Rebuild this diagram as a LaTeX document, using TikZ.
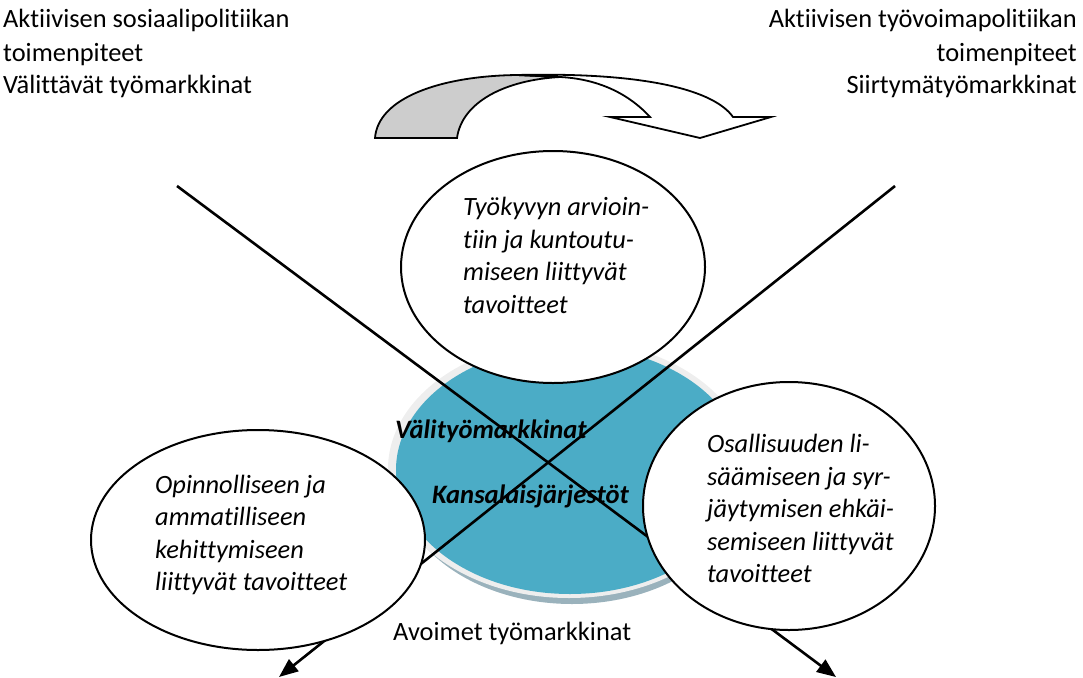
\documentclass[tikz,border=0pt]{standalone}
\usepackage{fontspec}
\setmainfont{Carlito}[Ligatures=NoCommon]
\usetikzlibrary{arrows.meta,shapes.geometric}
\definecolor{aqua}{HTML}{4BACC6}
\definecolor{ringgray}{HTML}{EEEEEE}
\definecolor{shadowblue}{HTML}{9AB2BC}
\definecolor{arrowgray}{HTML}{CDCDCD}
\begin{document}
\begin{tikzpicture}[x=1pt,y=-1pt,
  txt/.style={font=\fontsize{26.4}{32.5}\selectfont, inner sep=0pt, anchor=base west},
  txtr/.style={txt, anchor=base east},
  goal/.style={txt, font=\fontsize{26.4}{32.5}\selectfont\itshape},
  hub/.style={txt, font=\fontsize{26.6}{32.5}\selectfont\bfseries\itshape},
  goalell/.style={ellipse, draw=black, fill=white, line width=2pt, inner sep=0pt},
  plainell/.style={ellipse, inner sep=0pt},
  cross/.style={line width=2.6pt, -{Triangle[length=19pt,width=15pt]}},
  ribbon/.style={draw=black, line width=1.8pt, line join=miter}
]
\useasboundingbox (0,0) rectangle (1083,677);

% central blue ellipse with ring and shadow
\node[plainell, fill=shadowblue, minimum width=350pt, minimum height=252pt] (shadow) at (572,478) {};
\node[plainell, fill=ringgray, minimum width=362pt, minimum height=258pt] (ring) at (569,469) {};
\node[plainell, fill=aqua, minimum width=348pt, minimum height=248pt] (hubE) at (570,470) {};

% crossing lines
\coordinate (l1s) at (177,186);
\coordinate (l1e) at (836,677);
\coordinate (l2s) at (895,186);
\coordinate (l2e) at (279,677);
\draw[cross] (l1s) -- (l1e);
\draw[cross] (l2s) -- (l2e);

% goal ellipses
\node[goalell, minimum width=304pt, minimum height=232pt] (topE) at (553,267) {};
\node[goalell, minimum width=334pt, minimum height=220pt] (leftE) at (258,540) {};
\node[goalell, minimum width=292pt, minimum height=248pt] (rightE) at (789,506) {};

% curved arrow at top
\draw[ribbon, fill=arrowgray] (375,138) .. controls (378,98) and (440,76) .. (517,75)
  -- (560,77) .. controls (505,80) and (462,102) .. (457,138) -- cycle;
\draw[ribbon, fill=white] (517,75) .. controls (645,72) and (714,90) .. (733,117)
  -- (771,117) -- (700,138) -- (610,117) -- (650,117)
  .. controls (630,95) and (600,79) .. (560,77) -- cycle;

% header texts
\node[txt] (tl1) at (3,28) {Aktiivisen sosiaalipolitiikan};
\node[txt] (tl2) at (3,61) {toimenpiteet};
\node[txt] (tl3) at (3,93) {Välittävät työmarkkinat};
\node[txtr] (tr1) at (1077,28) {Aktiivisen työvoimapolitiikan};
\node[txtr] (tr2) at (1077,61) {toimenpiteet};
\node[txtr] (tr3) at (1077,93) {Siirtymätyömarkkinat};

% top ellipse text
\node[goal] (t1) at (463,215) {Työkyvyn arvioin-};
\node[goal] (t2) at (463,248) {tiin ja kuntoutu-};
\node[goal] (t3) at (463,280) {miseen liittyvät};
\node[goal] (t4) at (463,313) {tavoitteet};

% left ellipse text
\node[goal] (a1) at (155,493) {Opinnolliseen ja};
\node[goal] (a2) at (155,525) {ammatilliseen};
\node[goal] (a3) at (155,558) {kehittymiseen};
\node[goal] (a4) at (155,590) {liittyvät tavoitteet};

% right ellipse text
\node[goal] (b1) at (707,452) {Osallisuuden li-};
\node[goal] (b2) at (707,485) {säämiseen ja syr-};
\node[goal] (b3) at (707,517) {jäytymisen ehkäi-};
\node[goal] (b4) at (707,550) {semiseen liittyvät};
\node[goal] (b5) at (707,582) {tavoitteet};

% hub texts
\node[hub] (h1) at (395,438) {Välityömarkkinat};
\node[hub] (h2) at (432,503) {Kansalaisjärjestöt};

\node[txt] (open) at (393,640) {Avoimet työmarkkinat};
\end{tikzpicture}
\end{document}
